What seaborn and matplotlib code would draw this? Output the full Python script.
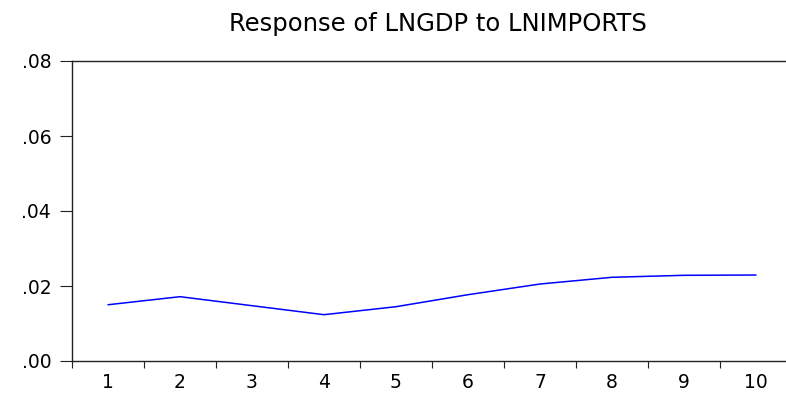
import matplotlib
matplotlib.use("Agg")
import matplotlib.pyplot as plt
import seaborn as sns
import pandas as pd
from matplotlib.ticker import FixedLocator, FuncFormatter

periods = [1, 2, 3, 4, 5, 6, 7, 8, 9, 10]
response = [0.0150, 0.01715, 0.01475, 0.01235, 0.01448, 0.01768, 0.02053, 0.02232, 0.02285, 0.02293]
yticks = [0.00, 0.02, 0.04, 0.06, 0.08]
title = "Response of LNGDP to LNIMPORTS"

sns.set_style("white")
plt.rcParams['font.family'] = ['DejaVu Sans']

df = pd.DataFrame({"period": periods, "response": response})

fig = plt.figure(figsize=(7.86, 3.97), dpi=100)
ax = fig.add_axes([72 / 786, 36 / 397, 720 / 786, 300 / 397])
sns.lineplot(data=df, x="period", y="response", ax=ax, color="#0000ff", linewidth=1.1)

ax.set_xlim(0.5, 10.5)
ax.set_ylim(0, 0.08)
ax.set_xlabel("")
ax.set_ylabel("")

ax.xaxis.set_major_locator(FixedLocator(periods))
ax.xaxis.set_minor_locator(FixedLocator([p - 0.5 for p in periods] + [periods[-1] + 0.5]))
ax.set_xticklabels([str(p) for p in periods])
ax.tick_params(axis="x", which="major", length=0, pad=9, labelsize=13.5, colors="black")
ax.tick_params(axis="x", which="minor", length=5, width=0.8, color="#222222", direction="out", bottom=True)

ax.yaxis.set_major_locator(FixedLocator(yticks))
ax.yaxis.set_major_formatter(FuncFormatter(lambda v, pos: f"{v:.2f}".lstrip("0")))
ax.tick_params(axis="y", which="major", length=9, width=0.8, color="#222222", direction="out",
               left=True, pad=6, labelsize=13.5, labelcolor="black")

for s in ["left", "bottom", "top", "right"]:
    ax.spines[s].set_visible(True)
    ax.spines[s].set_color("#222222")
    ax.spines[s].set_linewidth(1.0)

fig.text(438 / 786, 1 - 31 / 397, title, ha="center", va="baseline", fontsize=17.5, color="black")

fig.savefig("out.png", dpi=100)
